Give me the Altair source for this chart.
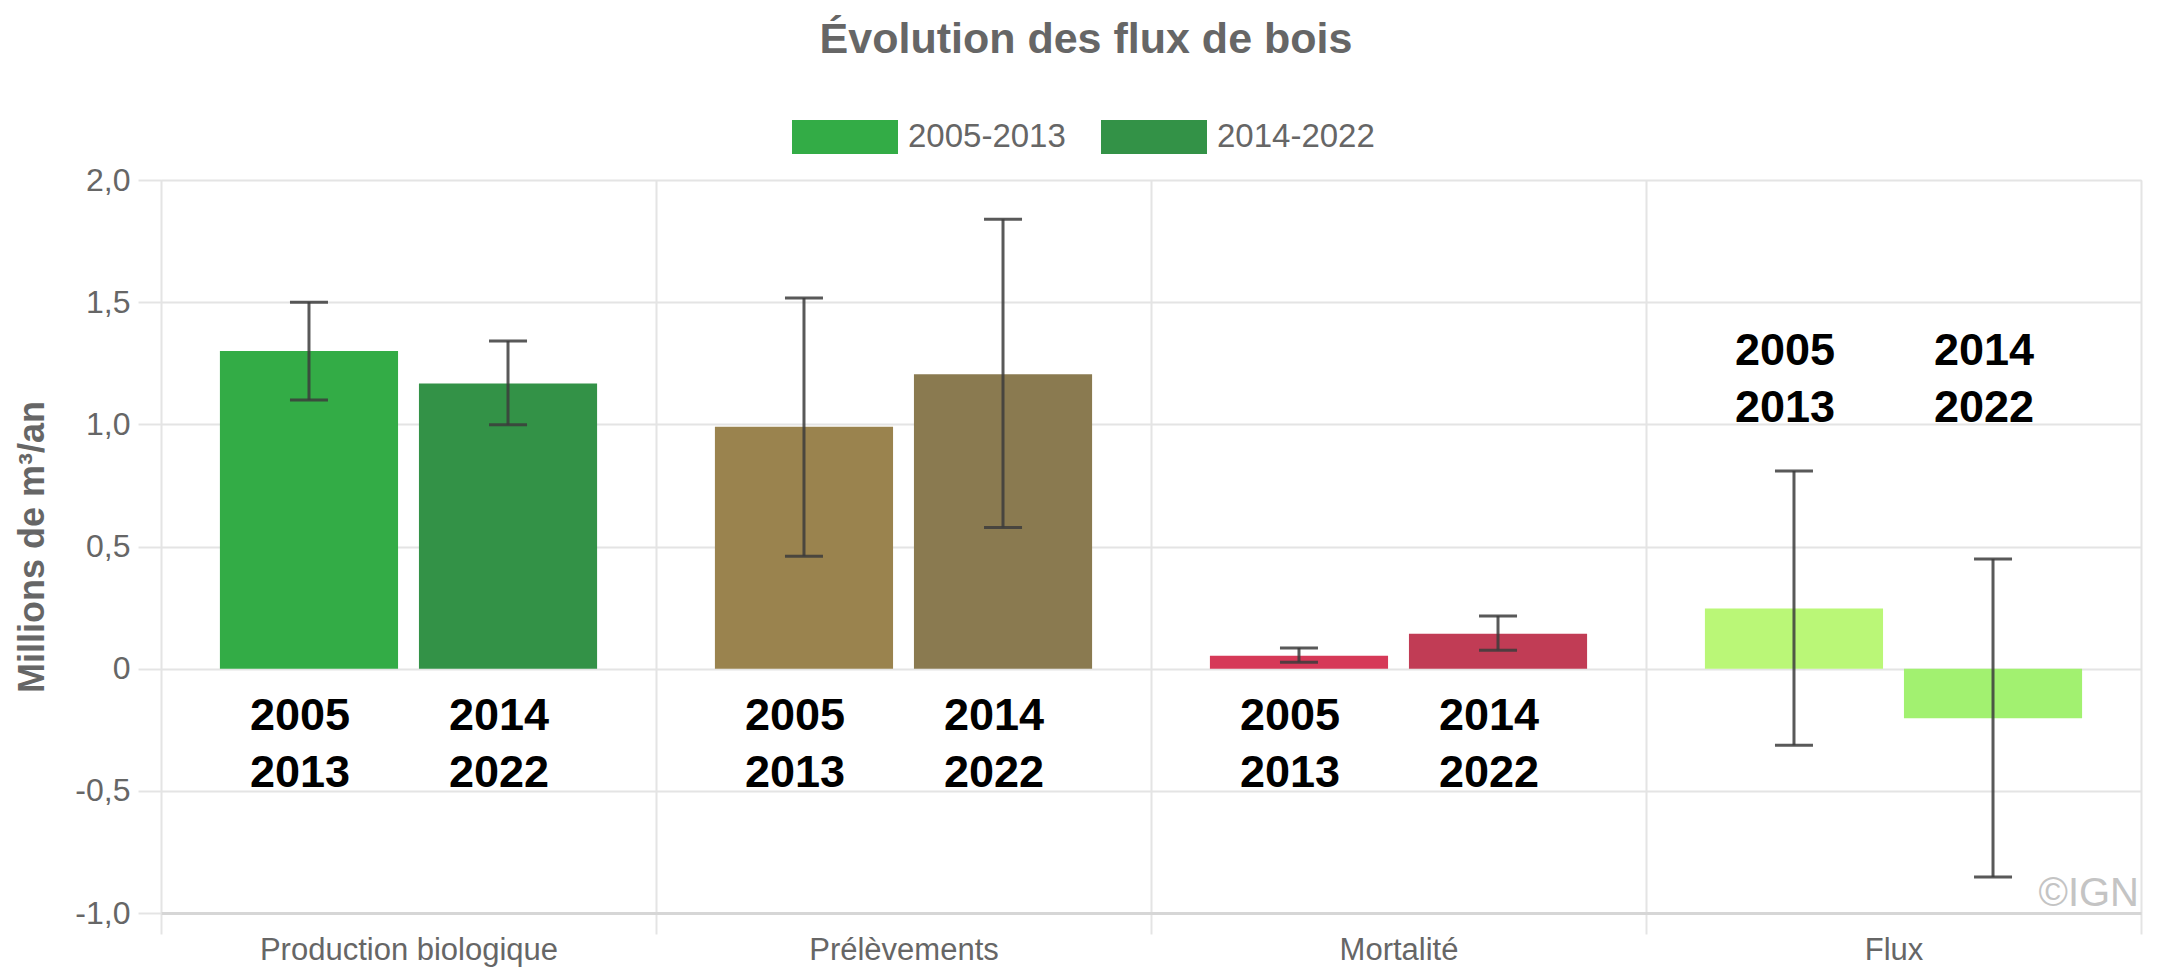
import altair as alt
import pandas as pd

# ---- data ----
categories = ["Production biologique", "Prélèvements", "Mortalité", "Flux"]
periods = ["2005-2013", "2014-2022"]

values_2005 = [1.30, 0.99, 0.053, 0.246]
values_2014 = [1.167, 1.205, 0.143, -0.203]
low_2005 = [1.10, 0.46, 0.026, -0.313]
high_2005 = [1.50, 1.517, 0.085, 0.809]
low_2014 = [0.998, 0.578, 0.075, -0.853]
high_2014 = [1.341, 1.839, 0.216, 0.449]

y_ticks = [-1.0, -0.5, 0.0, 0.5, 1.0, 1.5, 2.0]

# ---- styles ----
colors_2005 = ["#33ac46", "#9a834e", "#d63958", "#baf777"]
colors_2014 = ["#339247", "#8a7a50", "#c13c55", "#a2f170"]

rows = []
keys, key_colors = [], []
for i, cat in enumerate(categories):
    for per, val, lo, hi, col in (
        (periods[0], values_2005[i], low_2005[i], high_2005[i], colors_2005[i]),
        (periods[1], values_2014[i], low_2014[i], high_2014[i], colors_2014[i]),
    ):
        key = cat + "|" + per
        rows.append(dict(categorie=cat, periode=per, valeur=val, bas=lo, haut=hi, cle=key))
        keys.append(key)
        key_colors.append(col)
df = pd.DataFrame(rows)
df["etiquette"] = df["periode"].str.replace("-", "\n")

W, H = 1980, 733
FONT = "Liberation Sans"
GRID = "#e4e4e4"
YTITLE = "Millions de m³/an"
ERR = "#3c3c3c"

x_enc = alt.X(
    "categorie:N", sort=categories, title=None,
    scale=alt.Scale(paddingInner=0, paddingOuter=0),
    axis=alt.Axis(tickBand="extent", grid=True, gridColor=GRID, gridWidth=2,
                  domainColor="#d6d6d6", domainWidth=3, tickColor=GRID, tickWidth=2,
                  tickSize=21, labelFontSize=31, labelColor="#666", labelPadding=1,
                  labelAngle=0, labelFont=FONT, labelLimit=0),
)
xo_enc = alt.XOffset("periode:N", sort=periods,
                     scale=alt.Scale(paddingInner=0.105, paddingOuter=0.296))
yscale = alt.Scale(domain=[-1, 2], nice=False)

base = alt.Chart(df)

bars = base.mark_bar(opacity=1, strokeWidth=0).encode(
    x=x_enc,
    xOffset=xo_enc,
    y=alt.Y("valeur:Q", scale=yscale, title=YTITLE,
            axis=alt.Axis(values=y_ticks, grid=True, gridColor=GRID, gridWidth=2,
                          domain=False, tickColor=GRID, tickWidth=2, tickSize=23,
                          labelFontSize=32, labelColor="#666", labelPadding=8,
                          labelFont=FONT,
                          labelExpr="datum.value == 0 ? '0' : replace(replace(format(datum.value, '.1f'), '.', ','), '\u2212', '-')",
                          titleFontSize=36, titleFontWeight="bold", titleColor="#666",
                          titleFont=FONT, titlePadding=23)),
    color=alt.Color("cle:N", sort=keys,
                    scale=alt.Scale(domain=keys, range=key_colors),
                    legend=alt.Legend(orient="none", legendX=631, legendY=-96,
                                      direction="horizontal", title=None,
                                      values=keys[:2],
                                      labelExpr="split(datum.label, '|')[1]",
                                      symbolType="M-1,-0.32H1V0.32H-1Z", symbolSize=11236,
                                      symbolStrokeWidth=0, symbolOpacity=1,
                                      labelFontSize=33, labelColor="#666", labelFont=FONT,
                                      labelOffset=10, columnPadding=35, padding=0)),
)

err = base.mark_rule(color=ERR, opacity=0.85, strokeWidth=3).encode(
    x=x_enc, xOffset=xo_enc,
    y=alt.Y("bas:Q", scale=yscale, title=YTITLE),
    y2="haut:Q",
)
cap_hi = base.mark_tick(color=ERR, opacity=0.85, thickness=3, size=38).encode(
    x=x_enc, xOffset=xo_enc, y=alt.Y("haut:Q", scale=yscale, title=YTITLE),
)
cap_lo = base.mark_tick(color=ERR, opacity=0.85, thickness=3, size=38).encode(
    x=x_enc, xOffset=xo_enc, y=alt.Y("bas:Q", scale=yscale, title=YTITLE),
)

labels_below = base.transform_filter(alt.datum.categorie != "Flux").mark_text(
    lineBreak="\n", lineHeight=57, fontSize=45, fontWeight="bold", font=FONT,
    color="#000000", baseline="top", align="center", dx=-9, dy=25,
).encode(x=x_enc, xOffset=xo_enc, y=alt.datum(0), text="etiquette:N")

labels_flux = base.transform_filter(alt.datum.categorie == "Flux").mark_text(
    lineBreak="\n", lineHeight=57, fontSize=45, fontWeight="bold", font=FONT,
    color="#000000", baseline="top", align="center", dx=-9,
).encode(x=x_enc, xOffset=xo_enc, y=alt.datum(1.39), text="etiquette:N")

ign = alt.Chart(pd.DataFrame({"t": ["©IGN"]})).mark_text(
    fontSize=40, font=FONT, color="#c4c4c4", align="right", baseline="alphabetic", dy=-7,
).encode(x=alt.value(W - 2), y=alt.datum(-1.0), text="t:N")

chart = alt.layer(bars, err, cap_hi, cap_lo, labels_below, labels_flux, ign).properties(
    width=W, height=H,
    title=alt.TitleParams("Évolution des flux de bois", fontSize=43, fontWeight="bold",
                          color="#666", font=FONT, anchor="middle", dx=-65, dy=12,
                          baseline="alphabetic", offset=0),
    autosize=alt.AutoSizeParams(type="none"),
    padding={"left": 153, "top": 172, "right": 5, "bottom": 54},
).configure_view(stroke=None).configure(font=FONT)

chart.save("out.html", embed_options={"renderer": "svg", "actions": False})
